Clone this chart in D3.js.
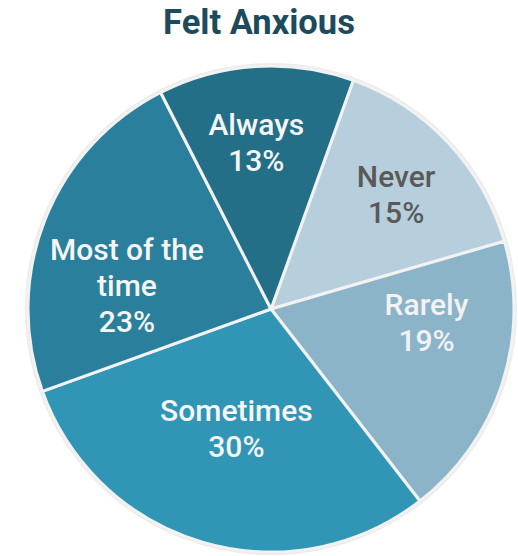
<!DOCTYPE html>
<html>
<head>
<meta charset="utf-8">
<script src="https://cdn.jsdelivr.net/npm/d3@7"></script>
<style>
  html, body { margin: 0; padding: 0; background: #ffffff; }
  svg { display: block; }
  text { font-family: "Roboto", "Liberation Sans", sans-serif; }
</style>
</head>
<body>
<svg id="chart" width="518" height="556"></svg>
<script>
// Survey answers, in clockwise order around the pie
const categories = ["Never", "Rarely", "Sometimes", "Most of the time", "Always"];
const values = [15, 19, 30, 23, 13];
const labelLines = [["Never"], ["Rarely"], ["Sometimes"], ["Most of the", "time"], ["Always"]];
const title = "Felt Anxious";

// Styling
const colors = ["#b7cfdc", "#8cb4c9", "#3195b5", "#2a809c", "#236f87"];
const textColors = ["#595959", "#f2f2f2", "#f5f5f5", "#f5f5f5", "#f5f5f5"];
// Label placement: [radius, angle nudge in degrees] per slice
const labelPlace = [[170, 0.6], [156, -13.4], [124, 0], [146, -12.3], [168, -1.4]];

const width = 518, height = 556;
const cx = 271, cy = 309, R = 243;
const startDeg = 19.8;

const svg = d3.select("#chart");

svg.append("text")
  .attr("x", 259).attr("y", 34)
  .attr("text-anchor", "middle")
  .attr("font-size", 34.5)
  .attr("font-weight", 700)
  .attr("fill", "#1d4b5d")
  .text(title);

const g = svg.append("g").attr("transform", `translate(${cx},${cy})`);

const pie = d3.pie()
  .value(d => d)
  .sort(null)
  .startAngle(startDeg * Math.PI / 180)
  .endAngle((startDeg + 360) * Math.PI / 180);

const arcs = pie(values);
const arc = d3.arc().innerRadius(0).outerRadius(R);

// outer light ring
g.append("circle")
  .attr("r", R + 1.5)
  .attr("fill", "none")
  .attr("stroke", "#ececec")
  .attr("stroke-width", 3);

g.selectAll("path.slice")
  .data(arcs)
  .join("path")
  .attr("class", "slice")
  .attr("d", arc)
  .attr("fill", (d, i) => colors[i])
  .attr("stroke", "#f2f2f2")
  .attr("stroke-width", 3)
  .attr("stroke-linejoin", "round");

const lineH = 36;
const labels = g.selectAll("g.label")
  .data(arcs)
  .join("g")
  .attr("class", "label")
  .attr("transform", (d, i) => {
    const [r, nudge] = labelPlace[i];
    const a = (d.startAngle + d.endAngle) / 2 + nudge * Math.PI / 180;
    return `translate(${r * Math.sin(a)},${-r * Math.cos(a)})`;
  });

labels.each(function(d, i) {
  const lines = labelLines[i].concat([d.data + "%"]);
  const n = lines.length;
  const t = d3.select(this).append("text")
    .attr("text-anchor", "middle")
    .attr("font-size", 30)
    .attr("font-weight", 500)
    .attr("fill", textColors[i]);
  lines.forEach((s, k) => {
    t.append("tspan")
      .attr("x", 0)
      .attr("y", (k - (n - 1) / 2) * lineH + 11)
      .text(s);
  });
});
</script>
</body>
</html>
